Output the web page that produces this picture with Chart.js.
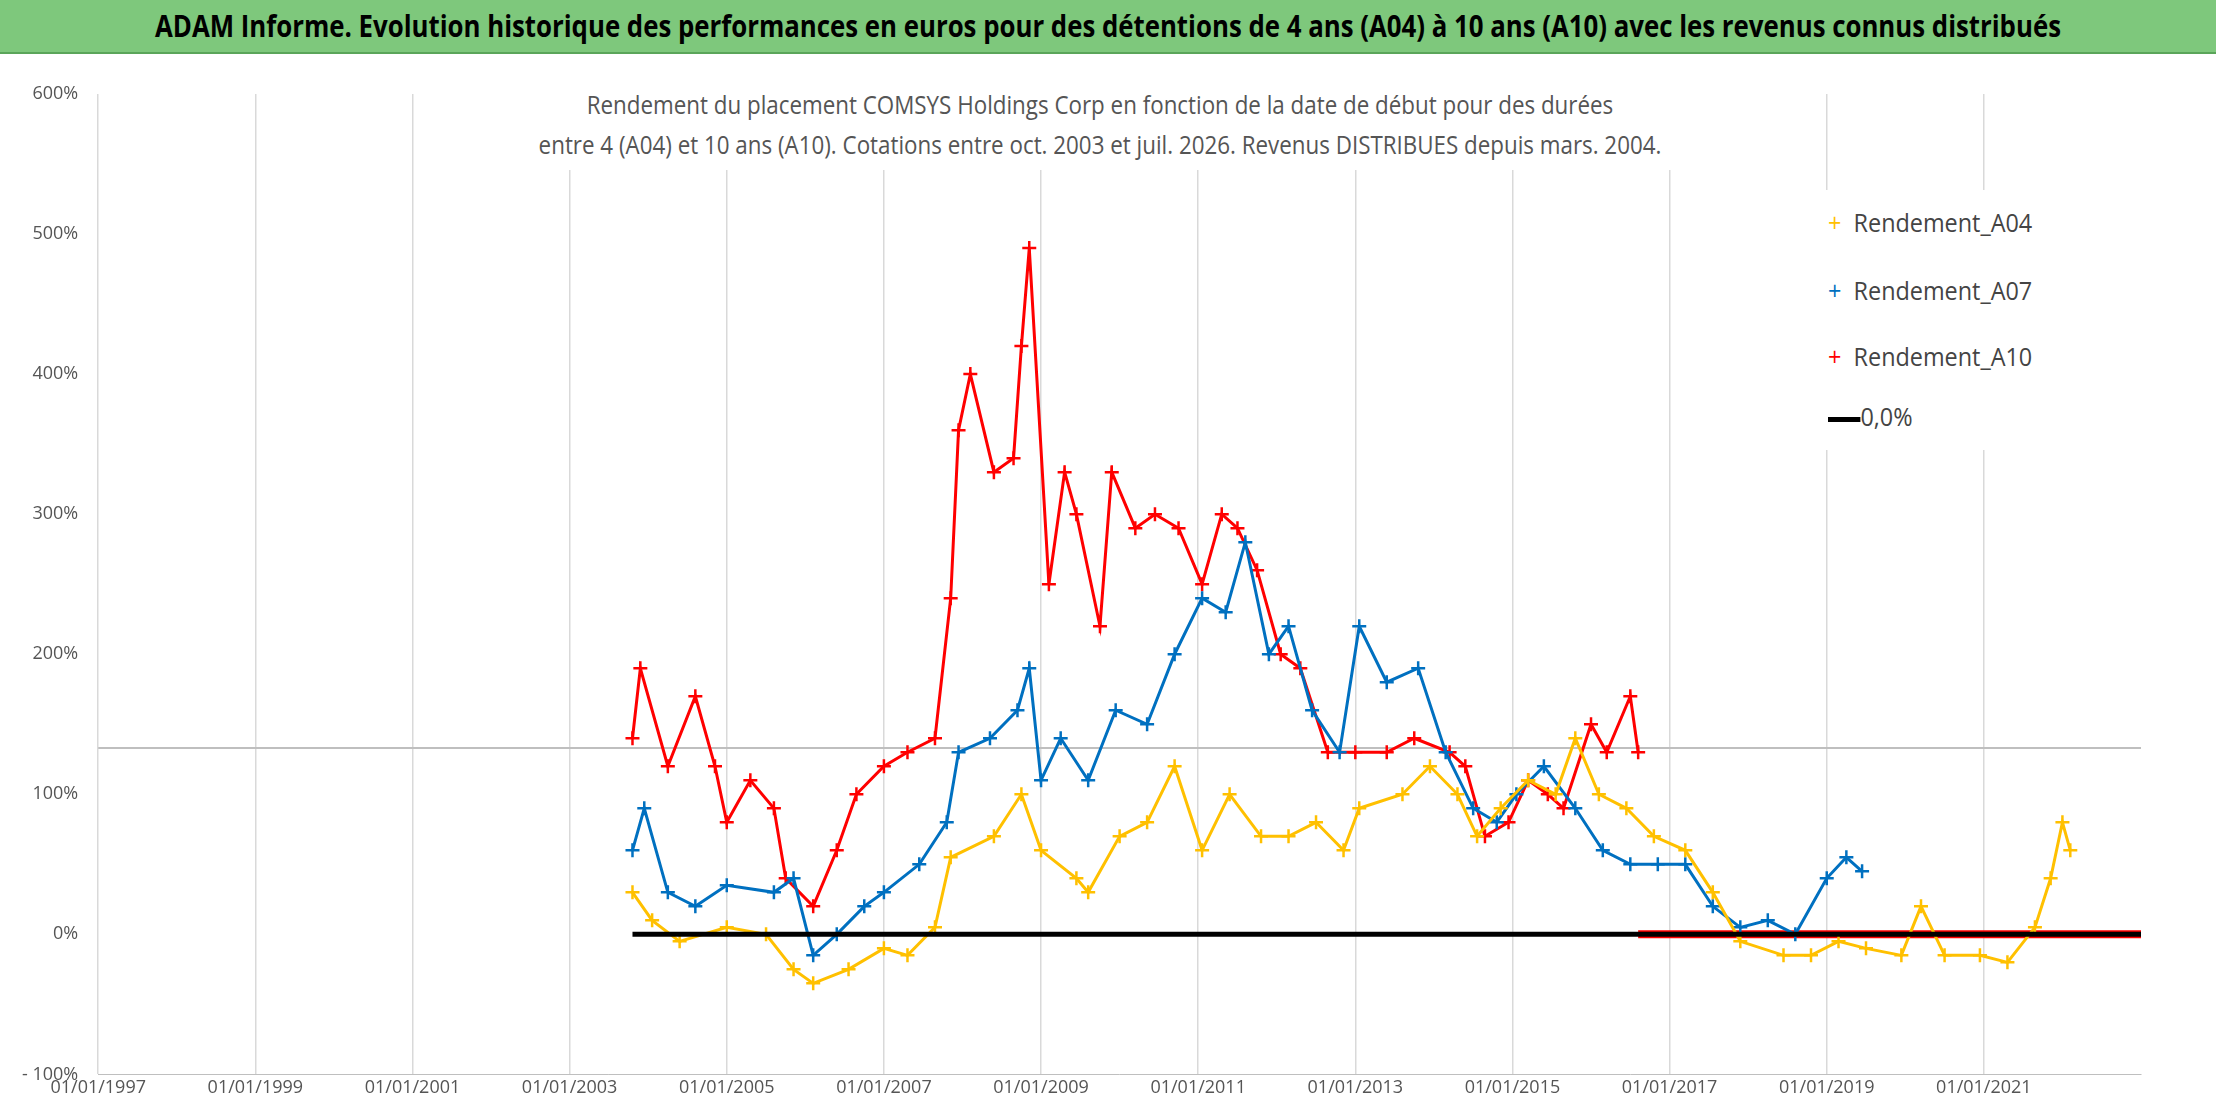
<!DOCTYPE html>
<html><head><meta charset="utf-8">
<script src="https://cdn.jsdelivr.net/npm/chart.js@4/dist/chart.umd.min.js"></script>
<style>
body{margin:0;background:#fff;font-family:"Open Sans",sans-serif;}
#head{position:absolute;left:0;top:0;width:2216px;height:52px;background:#7ec87c;border-bottom:2px solid #5aa55a;color:#000;overflow:hidden}
#head span{position:absolute;left:1108px;top:0;white-space:nowrap;font:bold 30px "Open Sans",sans-serif;line-height:52px;transform:translateX(-50%) scaleX(0.86)}
#wrap{position:absolute;left:0;top:54px;width:2216px;height:1048px}
#sub{position:absolute;left:450px;top:84px;width:1300px;height:86px;background:#fff;color:#555}
#sub span{position:absolute;left:650px;top:0;white-space:nowrap;text-align:center;font:26px "Open Sans",sans-serif;line-height:40px;transform:translateX(-50%) scaleX(0.86)}
#leg{position:absolute;left:1818px;top:190px;width:300px;height:260px;background:#fff;font:26px "Open Sans",sans-serif;color:#444}
#leg div{position:absolute;left:10px;white-space:nowrap;transform-origin:left;transform:scaleX(0.9)}
</style></head><body>
<div id="head"><span>ADAM Informe. Evolution historique des performances en euros pour des détentions de 4 ans (A04) à 10 ans (A10) avec les revenus connus distribués</span></div>
<div id="wrap"><canvas id="c" width="2216" height="1048"></canvas></div>
<div id="sub"><span>Rendement du placement COMSYS Holdings Corp en fonction de la date de début pour des durées<br>entre 4 (A04) et 10 ans (A10). Cotations entre oct. 2003 et juil. 2026. Revenus DISTRIBUES depuis mars. 2004.</span></div>
<div id="leg">
 <div style="top:14px"><span style="color:#ffc000">+</span>&nbsp;&nbsp;Rendement_A04</div>
 <div style="top:82px"><span style="color:#0070c0">+</span>&nbsp;&nbsp;Rendement_A07</div>
 <div style="top:148px"><span style="color:#ff0000">+</span>&nbsp;&nbsp;Rendement_A10</div>
 <div style="top:208px"><span style="display:inline-block;width:36px;height:5px;background:#000;vertical-align:middle"></span>0,0%</div>
</div>
<script>
// dates as decimal years, values in %
const yearsA04 = [2003.8,2004.05,2004.4,2005.0,2005.5,2005.85,2006.1,2006.55,2007.0,2007.3,2007.65,2007.85,2008.4,2008.75,2009.0,2009.45,2009.6,2010.0,2010.35,2010.7,2011.05,2011.4,2011.8,2012.15,2012.5,2012.85,2013.05,2013.6,2013.95,2014.3,2014.55,2014.85,2015.2,2015.55,2015.8,2016.1,2016.45,2016.8,2017.2,2017.55,2017.9,2018.45,2018.8,2019.15,2019.5,2019.95,2020.2,2020.5,2020.95,2021.3,2021.65,2021.85,2022.0,2022.1];
const valsA04  = [30,10,-5,5,0,-25,-35,-25,-10,-15,5,55,70,100,60,40,30,70,80,120,60,100,70,70,80,60,90,100,120,100,70,90,110,100,140,100,90,70,60,30,-5,-15,-15,-5,-10,-15,20,-15,-15,-20,5,40,80,60];
const yearsA07 = [2003.8,2003.95,2004.25,2004.6,2005.0,2005.6,2005.85,2006.1,2006.4,2006.75,2007.0,2007.45,2007.8,2007.95,2008.35,2008.7,2008.85,2009.0,2009.25,2009.6,2009.95,2010.35,2010.7,2011.05,2011.35,2011.6,2011.9,2012.15,2012.45,2012.8,2013.05,2013.4,2013.8,2014.15,2014.5,2014.8,2015.05,2015.4,2015.8,2016.15,2016.5,2016.85,2017.2,2017.55,2017.9,2018.25,2018.6,2019.0,2019.25,2019.45];
const valsA07  = [60,90,30,20,35,30,40,-15,0,20,30,50,80,130,140,160,190,110,140,110,160,150,200,240,230,280,200,220,160,130,220,180,190,130,90,80,100,120,90,60,50,50,50,20,5,10,0,40,55,45];
const yearsA10 = [2003.8,2003.9,2004.25,2004.6,2004.85,2005.0,2005.3,2005.6,2005.75,2006.1,2006.4,2006.65,2007.0,2007.3,2007.65,2007.85,2007.95,2008.1,2008.4,2008.65,2008.75,2008.85,2009.1,2009.3,2009.45,2009.75,2009.9,2010.2,2010.45,2010.75,2011.05,2011.3,2011.5,2011.75,2012.05,2012.3,2012.65,2013.0,2013.4,2013.75,2014.2,2014.4,2014.65,2014.95,2015.2,2015.45,2015.65,2016.0,2016.2,2016.5,2016.6];
const valsA10  = [140,190,120,170,120,80,110,90,40,20,60,100,120,130,140,240,360,400,330,340,420,490,250,330,300,220,330,290,300,290,250,300,290,260,200,190,130,130,130,140,130,120,70,80,110,100,90,150,130,170,130];
const zeroStart = 2003.8, zeroEnd = 2016.6, axisEnd = 2023.0;
const xTicks = [1997,1999,2001,2003,2005,2007,2009,2011,2013,2015,2017,2019,2021];
const yTicks = [-100,0,100,200,300,400,500,600];
const frameLineValue = 133;

const pts = (xs, ys) => xs.map((x, i) => ({x, y: ys[i]}));
const series = (label, color, xs, ys) => ({
  label, data: pts(xs, ys), showLine: true, borderColor: color, backgroundColor: color,
  borderWidth: 3, pointStyle: 'cross', pointRadius: 7, pointBorderWidth: 2.5, tension: 0
});

const frameLine = {
  id: 'frameLine',
  beforeDatasetsDraw(ch) {
    const {ctx, chartArea: a, scales: {y}} = ch;
    const py = y.getPixelForValue(frameLineValue);
    ctx.save(); ctx.strokeStyle = '#bfbfbf'; ctx.lineWidth = 2;
    ctx.beginPath(); ctx.moveTo(a.left, py); ctx.lineTo(a.right, py); ctx.stroke(); ctx.restore();
  }
};

const tickFont = {size: 18, family: 'Open Sans'};
new Chart(document.getElementById('c'), {
  type: 'scatter',
  data: { datasets: [
    {label: '0,0%', data: [{x: zeroStart, y: 0}, {x: axisEnd, y: 0}], showLine: true, borderColor: '#000', borderWidth: 5, pointRadius: 0},
    series('Rendement_A04', '#ffc000', yearsA04, valsA04),
    series('Rendement_A07', '#0070c0', yearsA07, valsA07),
    series('Rendement_A10', '#ff0000', yearsA10, valsA10),
    {label: 'A10 zero', data: [{x: zeroEnd, y: 0}, {x: axisEnd, y: 0}], showLine: true, borderColor: '#ff0000', borderWidth: 8, pointRadius: 0}
  ]},
  options: {
    responsive: false, animation: false,
    layout: {padding: {left: 10, right: 75, top: 40, bottom: 0}},
    plugins: {legend: {display: false}, tooltip: {enabled: false}},
    scales: {
      x: {type: 'linear', min: 1997, max: axisEnd,
        afterBuildTicks: s => { s.ticks = xTicks.map(v => ({value: v})); },
        ticks: {callback: v => '01/01/' + v, color: '#555', font: tickFont, maxRotation: 0},
        grid: {color: '#d9d9d9', lineWidth: 1.5, drawTicks: false}, border: {color: '#bfbfbf'}},
      y: {min: -100, max: 600,
        afterBuildTicks: s => { s.ticks = yTicks.map(v => ({value: v})); },
        ticks: {callback: v => (v < 0 ? '- ' + (-v) : v) + '%', color: '#555', font: tickFont, padding: 12},
        grid: {display: false}, border: {display: false}}
    }
  },
  plugins: [frameLine]
});
</script>
</body></html>
